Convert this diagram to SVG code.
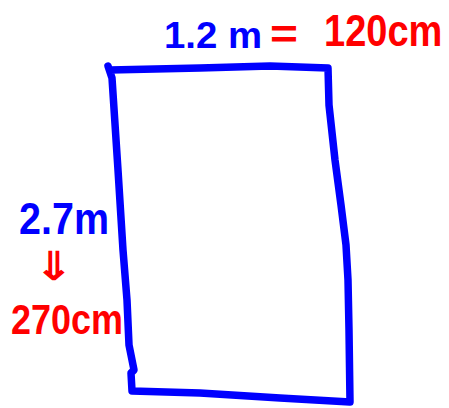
<svg xmlns="http://www.w3.org/2000/svg" width="449" height="408" viewBox="0 0 449 408">
<style>
.b{fill:#0000ff}
.r{fill:#ff0000}
text{font-family:"Liberation Sans",Arial,sans-serif;font-weight:bold}
.shape{fill:none;stroke:#0000ff;stroke-width:7.5;stroke-linecap:round;stroke-linejoin:round}
</style>
<rect width="449" height="408" fill="#ffffff"/>
<g id="rectangle">
<path class="shape" d="M108,66 L112,78 L118,170 L123,250 L127,300 L129,345 L134,370 L131,373 L132,391 L200,393 L280,398 L350,402 L349,330 L348,280 L346,245 L341,205 L335,160 L329,105 L328,68 L270,66 L200,68 L110,70"/>
</g>
<g id="top-label">
<text class="b" x="164" y="48" font-size="37" textLength="98" lengthAdjust="spacingAndGlyphs">1.2 m</text>
<text class="r" x="270" y="48" font-size="40" textLength="28" lengthAdjust="spacingAndGlyphs">=</text>
<text class="r" transform="translate(324,46) scale(1,1.15)" x="0" y="0" font-size="38">120cm</text>
</g>
<g id="left-label">
<text class="b" x="19" y="234" font-size="45" textLength="90" lengthAdjust="spacingAndGlyphs">2.7m</text>
<text class="r" x="34" y="280" font-size="40" textLength="40" lengthAdjust="spacingAndGlyphs" style="font-family:'DejaVu Sans',sans-serif">⇓</text>
<text class="r" x="11" y="334" font-size="43" textLength="112" lengthAdjust="spacingAndGlyphs">270cm</text>
</g>
</svg>
